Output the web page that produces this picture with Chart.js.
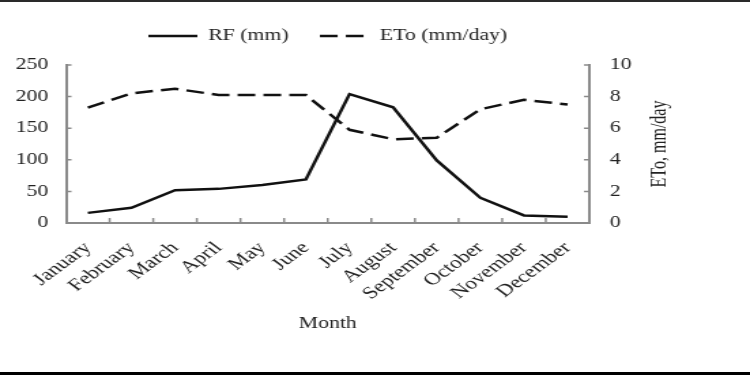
<!DOCTYPE html>
<html>
<head>
<meta charset="utf-8">
<script src="https://cdn.jsdelivr.net/npm/chart.js@4.4.0/dist/chart.umd.min.js"></script>
<style>
  html, body { margin: 0; padding: 0; background: #fff; }
  #wrap { position: relative; width: 750px; height: 375px; overflow: hidden; background: #fff; }
  #c { position: absolute; left: 0; top: 0; }
  .bar { position: absolute; left: 0; width: 750px; }
  #topbar { top: 0; height: 2px; background: #2a2a2a; }
  #botbar { top: 372px; height: 3px; background: #000; }
</style>
</head>
<body>
<div id="wrap">
  <canvas id="c" width="551" height="375" style="width:750px;height:375px;"></canvas>
  <div class="bar" id="topbar"></div>
  <div class="bar" id="botbar"></div>
</div>
<script>
const months = ["January","February","March","April","May","June","July","August","September","October","November","December"];
const rfValues = [16, 24, 52, 54, 60, 69, 204, 183, 99, 40, 12, 10];
const etoValues = [7.3, 8.2, 8.5, 8.1, 8.1, 8.1, 5.9, 5.3, 5.4, 7.2, 7.8, 7.5];
const rfTicks = [0, 50, 100, 150, 200, 250];
const etoTicks = [0, 2, 4, 6, 8, 10];
const seriesNames = ["RF (mm)", "ETo (mm/day)"];
const xTitle = "Month";
const rightTitle = "ETo, mm/day";

const FONT = "'Liberation Serif', 'Times New Roman', serif";
const AXIS_COLOR = "#8a8a8a";
const TEXT_COLOR = "#222";
const LINE_COLOR = "#111";
const ETO_DASH = [13, 6];

function legendSample(dash) {
  const cv = document.createElement('canvas');
  cv.width = 36; cv.height = 4;
  const g = cv.getContext('2d');
  g.strokeStyle = LINE_COLOR;
  g.lineWidth = 2.5;
  g.setLineDash(dash);
  g.beginPath(); g.moveTo(0, 2); g.lineTo(36, 2); g.stroke();
  return cv;
}

const extras = {
  id: 'extras',
  beforeInit(chart) {
    const lg = chart.legend;
    if (lg) {
      const orig = lg.fit;
      lg.fit = function () { orig.call(this); this.height = 60; };
    }
  },
  afterDraw(chart) {
    const ctx = chart.ctx;
    const a = chart.chartArea;
    const x = chart.scales.x, y = chart.scales.y, y1 = chart.scales.y1;
    ctx.save();
    ctx.strokeStyle = AXIS_COLOR;
    ctx.lineWidth = 1.5;
    ctx.beginPath();
    rfTicks.forEach(v => {
      const py = y.getPixelForValue(v);
      if (v !== 0) { ctx.moveTo(a.left, py); ctx.lineTo(a.left + 4, py); }
    });
    etoTicks.forEach(v => {
      const py = y1.getPixelForValue(v);
      if (v !== 0) { ctx.moveTo(a.right, py); ctx.lineTo(a.right - 4, py); }
    });
    for (let i = 1; i < months.length; i++) {
      const px = x.getPixelForValue(i - 0.5);
      ctx.moveTo(px, a.bottom); ctx.lineTo(px, a.bottom - 5);
    }
    ctx.stroke();
    ctx.fillStyle = TEXT_COLOR;
    ctx.font = "16px " + FONT;
    ctx.textAlign = 'center';
    ctx.textBaseline = 'middle';
    ctx.translate(a.right + 52, (a.top + a.bottom) / 2);
    ctx.rotate(-Math.PI / 2);
    ctx.fillText(rightTitle, 0, 0);
    ctx.restore();
  }
};

new Chart(document.getElementById('c'), {
  type: 'line',
  data: {
    labels: months,
    datasets: [
      {
        label: seriesNames[0], data: rfValues, yAxisID: 'y',
        borderColor: LINE_COLOR, backgroundColor: LINE_COLOR, borderWidth: 2.5,
        pointRadius: 0, pointStyle: legendSample([]), tension: 0, fill: false
      },
      {
        label: seriesNames[1], data: etoValues, yAxisID: 'y1',
        borderColor: LINE_COLOR, backgroundColor: LINE_COLOR, borderWidth: 2.5,
        borderDash: ETO_DASH, pointRadius: 0, pointStyle: legendSample(ETO_DASH),
        tension: 0, fill: false
      }
    ]
  },
  options: {
    responsive: false,
    animation: false,
    devicePixelRatio: 1,
    layout: { padding: { top: 5, left: 0, right: 0, bottom: 0 } },
    plugins: {
      legend: {
        position: 'top',
        fullSize: false,
        labels: {
          usePointStyle: true,
          pointStyleWidth: 36,
          boxHeight: 16,
          padding: 23,
          color: TEXT_COLOR,
          font: { family: FONT, size: 16 }
        }
      },
      tooltip: { enabled: false }
    },
    scales: {
      x: {
        type: 'category',
        offset: true,
        grid: { display: true, drawOnChartArea: false, drawTicks: false },
        border: { display: true, color: AXIS_COLOR, width: 2 },
        ticks: {
          color: TEXT_COLOR, font: { family: FONT, size: 17 },
          maxRotation: 45, minRotation: 45, padding: 15, autoSkip: false
        },
        title: {
          display: true, text: xTitle, color: TEXT_COLOR,
          font: { family: FONT, size: 16 }, padding: { top: 0, bottom: 42 }
        },
        afterFit(s) { s.height = 152; }
      },
      y: {
        position: 'left',
        min: 0, max: 250,
        afterBuildTicks(s) { s.ticks = rfTicks.map(v => ({ value: v })); },
        grid: { display: true, drawOnChartArea: false, drawTicks: false },
        border: { display: true, color: AXIS_COLOR, width: 2 },
        ticks: { color: TEXT_COLOR, font: { family: FONT, size: 16 }, padding: 13 },
        afterFit(s) { s.width = 48.5; }
      },
      y1: {
        position: 'right',
        min: 0, max: 10,
        afterBuildTicks(s) { s.ticks = etoTicks.map(v => ({ value: v })); },
        grid: { display: true, drawOnChartArea: false, drawTicks: false },
        border: { display: true, color: AXIS_COLOR, width: 2 },
        ticks: { color: TEXT_COLOR, font: { family: FONT, size: 16 }, padding: 15 },
        afterFit(s) { s.width = 118; }
      }
    }
  },
  plugins: [extras]
});
</script>
</body>
</html>
